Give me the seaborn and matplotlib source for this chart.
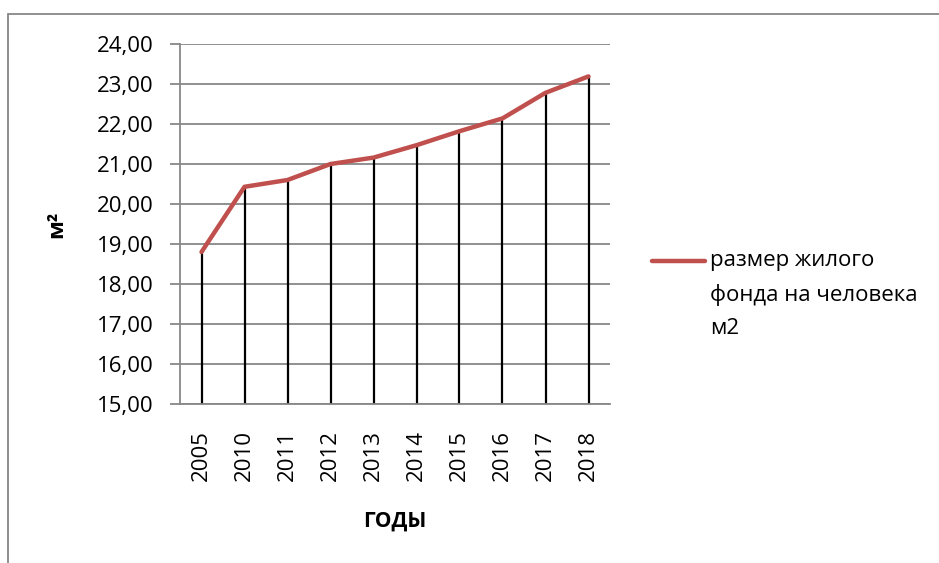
import matplotlib
matplotlib.use("Agg")
import matplotlib.pyplot as plt
import matplotlib.patches as mpatches
import seaborn as sns
import pandas as pd

years = ["2005", "2010", "2011", "2012", "2013", "2014", "2015", "2016", "2017", "2018"]
area_per_person = [18.80, 20.43, 20.60, 21.00, 21.16, 21.47, 21.82, 22.14, 22.78, 23.19]
yticks = [15, 16, 17, 18, 19, 20, 21, 22, 23, 24]
series_label = "размер жилого\nфонда на человека\nм2"

df = pd.DataFrame({"year": years, "value": area_per_person})

sns.set_theme(style="white")
plt.rcParams["font.family"] = ["Open Sans", "DejaVu Sans"]
plt.rcParams["text.color"] = "black"
plt.rcParams["xtick.color"] = "black"
plt.rcParams["ytick.color"] = "black"
plt.rcParams["axes.labelcolor"] = "black"

fig = plt.figure(figsize=(9.39, 5.63), dpi=100)
ax = fig.add_axes([180 / 939, 1 - 404 / 563, 430 / 939, 360 / 563])

grid_col = "#878787"
for v in yticks:
    ax.axhline(v, color=grid_col, lw=1.3, zorder=0)

# drop lines from each point to the axis floor
ax.vlines(df["year"], yticks[0], df["value"], color="black", lw=1.6, zorder=1)

sns.lineplot(data=df, x="year", y="value", sort=False, color="#C0504D",
             lw=3.2, ax=ax, label=series_label, zorder=2)

ax.set_xlim(-0.5, len(years) - 0.5)
ax.set_ylim(yticks[0], yticks[-1])
ax.set_yticks(yticks)
ax.set_yticklabels([f"{v:.2f}".replace(".", ",") for v in yticks], fontsize=16)
ax.tick_params(axis="x", labelrotation=90, labelsize=16, length=0, pad=19)
ax.tick_params(axis="y", left=True, length=7, width=1.3, color=grid_col,
               labelcolor="black", pad=12, labelsize=16)

for side in ["top", "right"]:
    ax.spines[side].set_visible(False)
ax.spines["left"].set_color(grid_col)
ax.spines["left"].set_linewidth(1.3)
ax.spines["bottom"].set_color(grid_col)
ax.spines["bottom"].set_linewidth(1.3)

ax.set_xlabel("ГОДЫ", fontsize=15, fontweight="bold")
ax.xaxis.set_label_coords(0.5, -0.295)
ax.set_ylabel("м²", fontsize=16, fontweight="bold")
ax.yaxis.set_label_coords(-0.262, 0.5)

leg = ax.legend(loc="upper left", bbox_to_anchor=(652 / 939, 1 - 250 / 563),
                bbox_transform=fig.transFigure, frameon=False, fontsize=16,
                handlelength=2.4, handletextpad=0.23, borderaxespad=0,
                borderpad=0)
for t in leg.get_texts():
    t.set_linespacing(1.75)

# put the legend key beside the first line of the wrapped label
fig.canvas.draw()
bb = leg.get_texts()[0].get_window_extent()
pitch_pt = ((bb.height - 22) / 2) * 72 / fig.dpi
for h in leg.legend_handles:
    yd = h.get_ydata()
    h.set_ydata([y + pitch_pt for y in yd])

# outer chart frame
fig.add_artist(mpatches.Rectangle((8 / 939, -0.2), 1.2, 1.2 - 14 / 563,
                                  transform=fig.transFigure, fill=False,
                                  edgecolor=grid_col, lw=1.3))

fig.savefig("out.png", dpi=100)
